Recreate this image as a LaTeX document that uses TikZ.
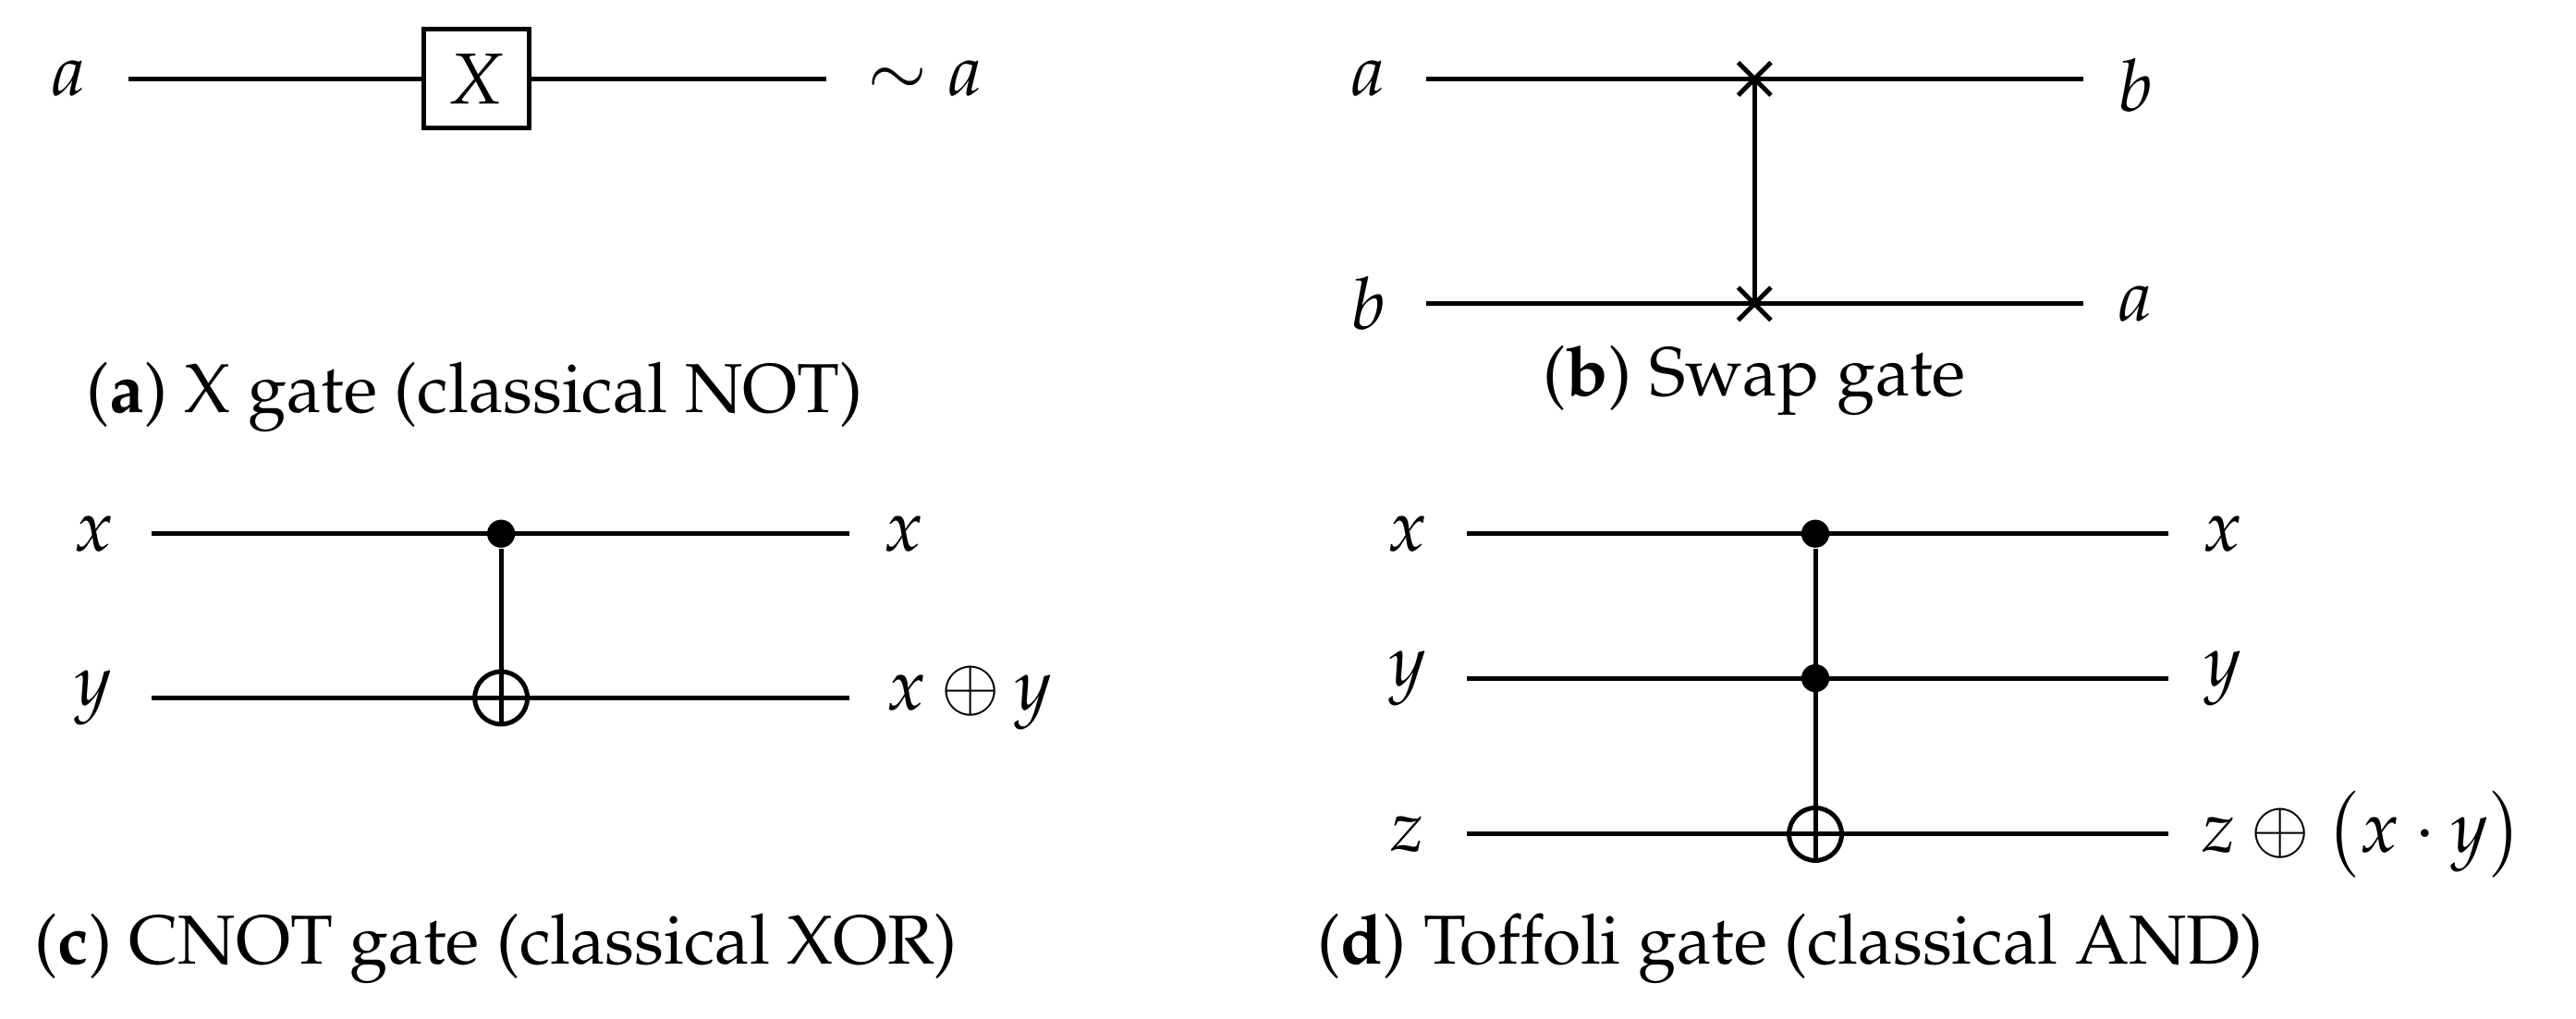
\documentclass[tikz,border=0pt]{standalone}
\usepackage[T1]{fontenc}
\usepackage{mathpazo}
\begin{document}
\begin{tikzpicture}[x=0.01cm,y=-0.01cm,
  lbl/.style={font=\fontsize{12.5}{15}\selectfont, inner sep=0pt},
  capt/.style={font=\fontsize{12}{14}\selectfont, inner sep=0pt},
  wire/.style={line width=0.8pt},
  dot/.style={circle,fill=black,inner sep=0pt,minimum size=0.17cm},
  oplus/.style={circle,draw,line width=0.8pt,inner sep=0pt,minimum size=0.32cm}]
\useasboundingbox (0,0) rectangle (1568,620);
% (a)
\node[lbl] (a1) at (42,48) {$a$};
\coordinate (aw0) at (78,48); \coordinate (aw1) at (503,48);
\node[draw,line width=0.8pt,minimum width=0.64cm,minimum height=0.6cm,lbl,inner sep=0pt] (X) at (290,48) {$X$};
\draw[wire] (aw0) -- (X.west) (X.east) -- (aw1);
\node[lbl] (a2) at (563,48) {$\sim a$};
\node[capt] (ca) at (289,242) {(\textbf{a}) X gate (classical NOT)};
% (b)
\node[lbl] (b1) at (833,48) {$a$};
\node[lbl] (b2) at (833,185) {$b$};
\coordinate (bw0) at (868,48); \coordinate (bw1) at (1268,48);
\coordinate (bw2) at (868,185); \coordinate (bw3) at (1268,185);
\coordinate (s1) at (1068,48); \coordinate (s2) at (1068,185);
\draw[wire] (bw0) -- (bw1) (bw2) -- (bw3) (s1) -- (s2);
\draw[wire] ([shift={(-10,-10)}]s1) -- ([shift={(10,10)}]s1) ([shift={(-10,10)}]s1) -- ([shift={(10,-10)}]s1);
\draw[wire] ([shift={(-10,-10)}]s2) -- ([shift={(10,10)}]s2) ([shift={(-10,10)}]s2) -- ([shift={(10,-10)}]s2);
\node[lbl] (b3) at (1300,52) {$b$};
\node[lbl] (b4) at (1300,185) {$a$};
\node[capt] (cb) at (1068,232) {(\textbf{b}) Swap gate};
% (c)
\node[lbl] (c1) at (57,325) {$x$};
\node[lbl] (c2) at (57,425) {$y$};
\coordinate (cw0) at (92,325); \coordinate (cw1) at (517,325);
\coordinate (cw2) at (92,425); \coordinate (cw3) at (517,425);
\node[dot] (cd) at (305,325) {};
\node[oplus] (co) at (305,425) {};
\draw[wire] (cw0) -- (cw1) (cw2) -- (cw3) (cd) -- (co.south);
\node[lbl] (c3) at (550,325) {$x$};
\node[lbl] (c4) at (590,425) {$x\oplus y$};
\node[capt] (cc) at (302,578) {(\textbf{c}) CNOT gate (classical XOR)};
% (d)
\node[lbl] (d1) at (857,325) {$x$};
\node[lbl] (d2) at (857,413) {$y$};
\node[lbl] (d3) at (857,508) {$z$};
\coordinate (dw0) at (893,325); \coordinate (dw1) at (1320,325);
\coordinate (dw2) at (893,413); \coordinate (dw3) at (1320,413);
\coordinate (dw4) at (893,508); \coordinate (dw5) at (1320,508);
\node[dot] (dd1) at (1105,325) {};
\node[dot] (dd2) at (1105,413) {};
\node[oplus] (do) at (1105,508) {};
\draw[wire] (dw0) -- (dw1) (dw2) -- (dw3) (dw4) -- (dw5) (dd1) -- (do.south);
\node[lbl] (d4) at (1353,325) {$x$};
\node[lbl] (d5) at (1353,413) {$y$};
\node[lbl,anchor=west] (d6) at (1340,508) {$z\oplus\bigl(x\cdot y\bigr)$};
\node[capt] (cd2) at (1090,578) {(\textbf{d}) Toffoli gate (classical AND)};
\end{tikzpicture}
\end{document}
